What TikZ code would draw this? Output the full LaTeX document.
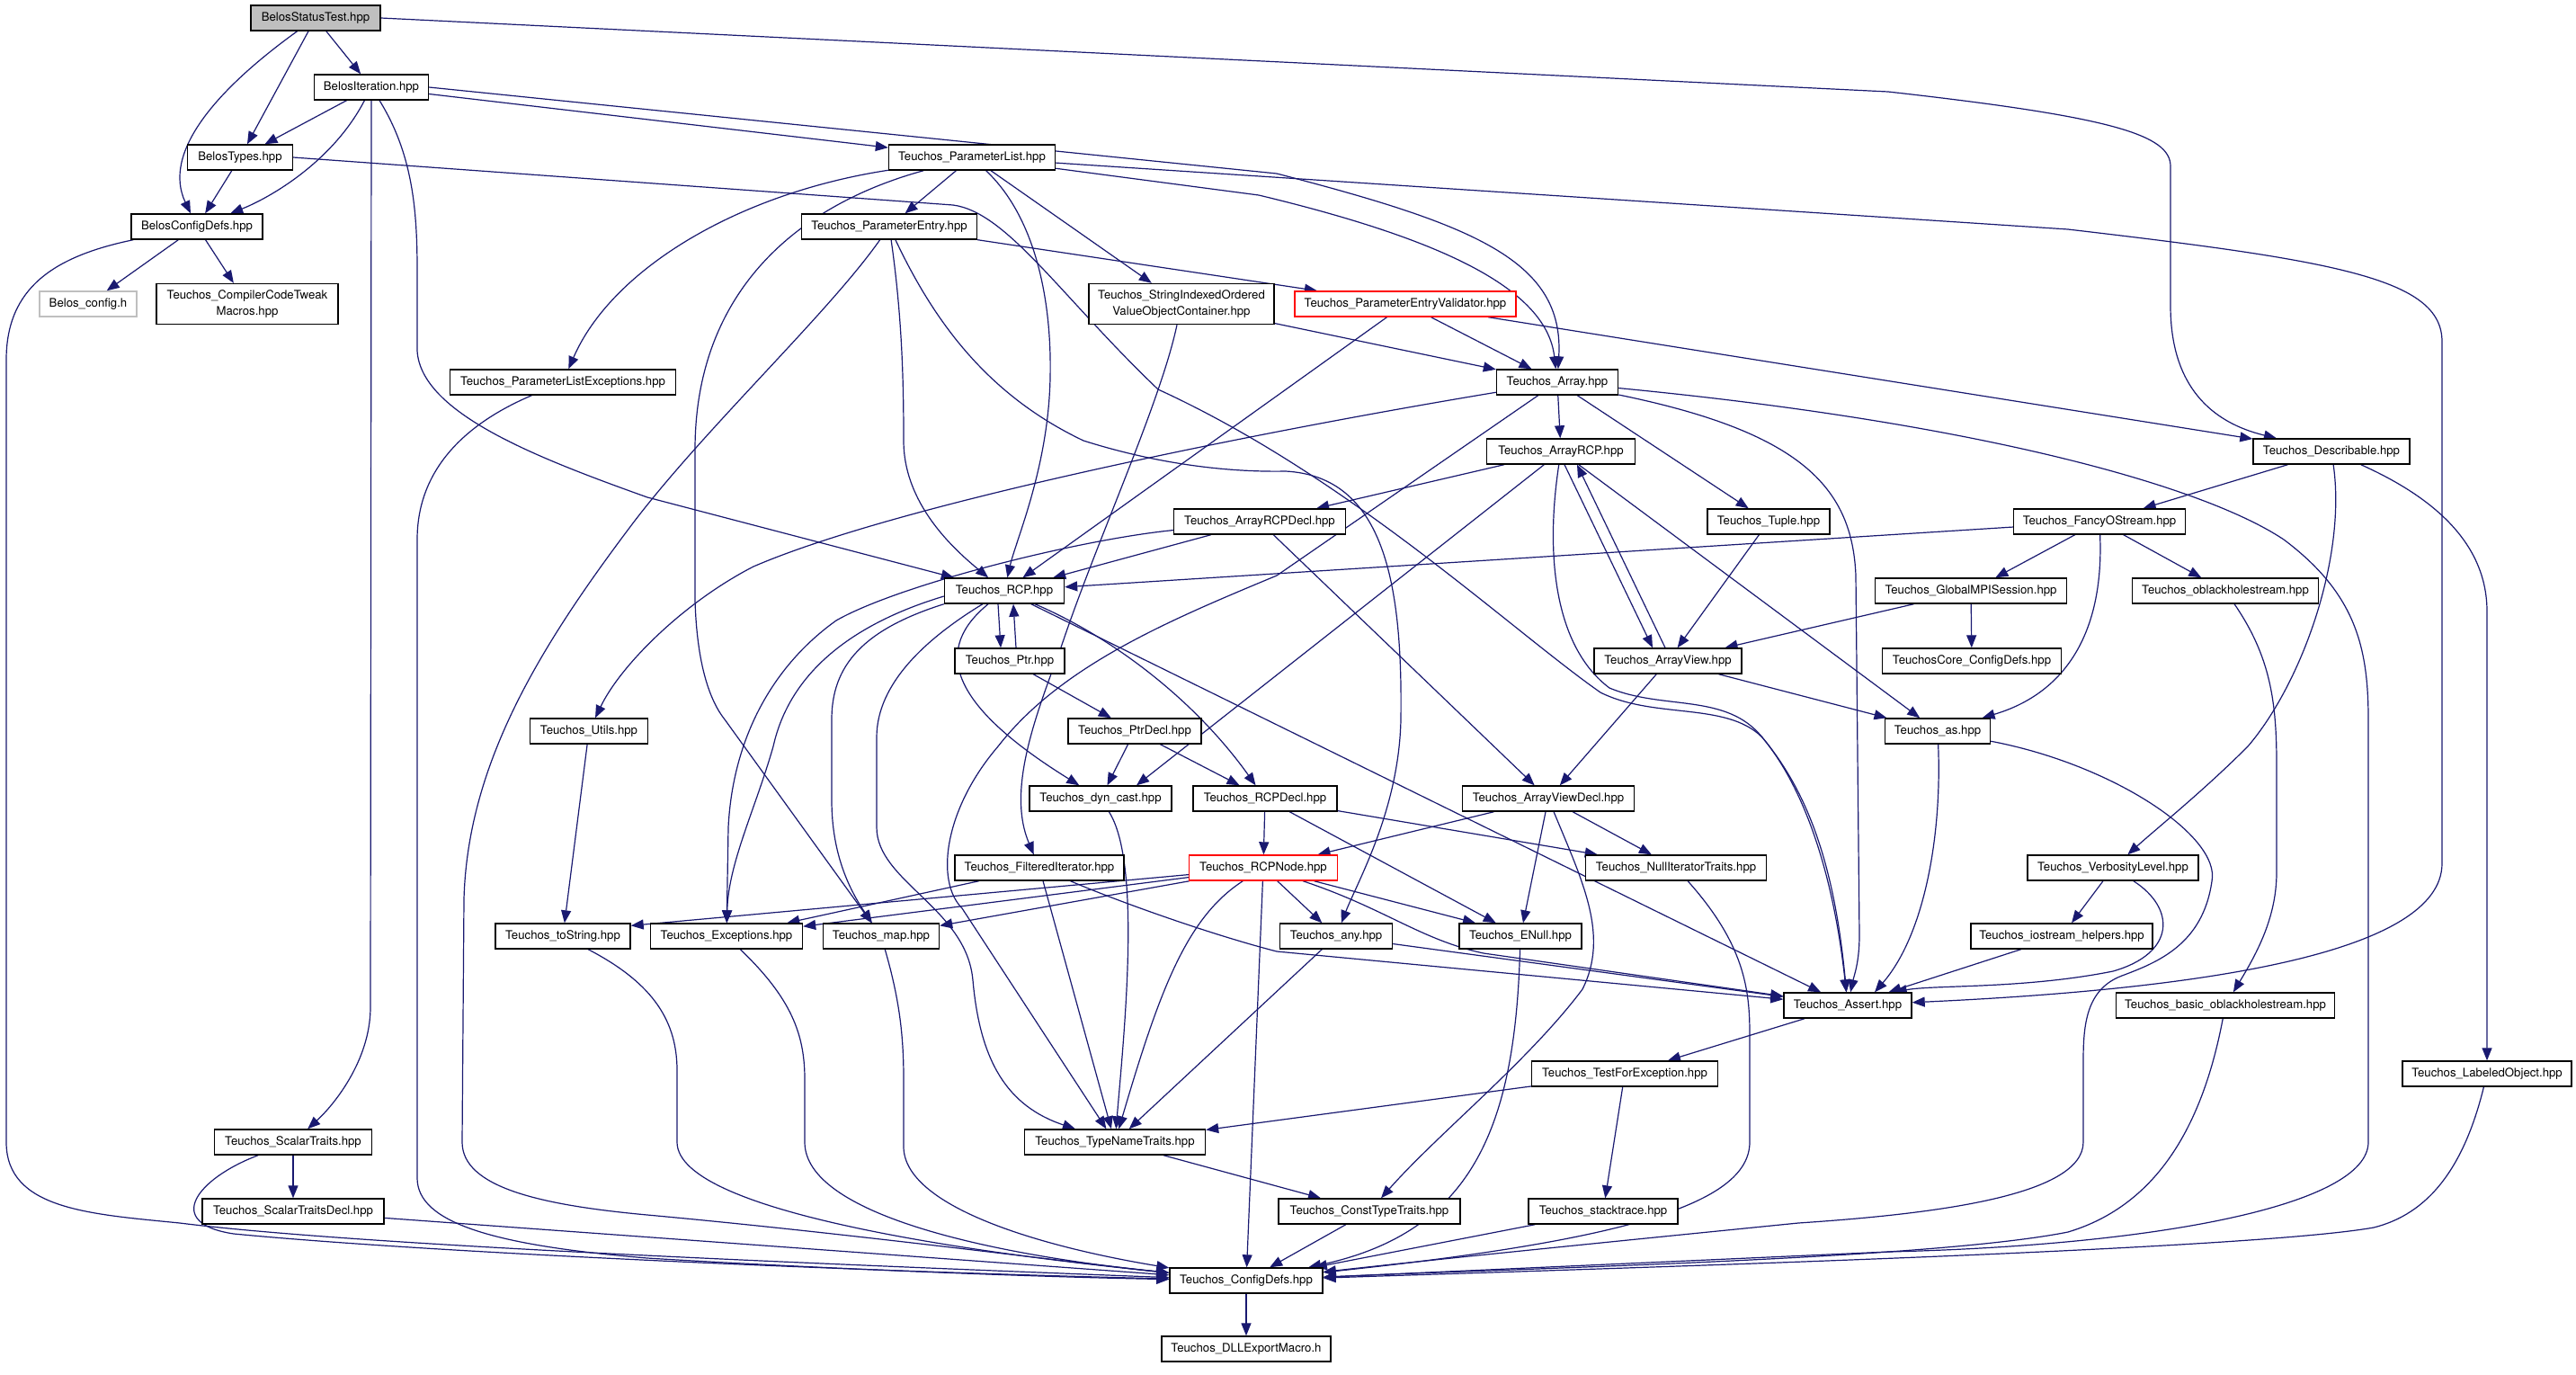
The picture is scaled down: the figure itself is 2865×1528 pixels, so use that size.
\documentclass[tikz,border=0pt]{standalone}
\usepackage{fontspec}
\setmainfont{TeX Gyre Heros}
\usetikzlibrary{arrows.meta,calc}
\definecolor{edgec}{HTML}{191970}
\definecolor{grayfill}{HTML}{BFBFBF}
\definecolor{graybd}{HTML}{BFBFBF}
\pgfdeclarelayer{bg}
\pgfsetlayers{bg,main}
\begin{document}
\begin{tikzpicture}[x=0.5pt,y=-0.5pt,
  nb/.style={draw=black, fill=white, line width=0.7pt, minimum width=#1*0.5pt, minimum height=14pt, inner sep=1pt, font=\fontsize{6.6}{9}\selectfont, text=black},
  two/.style={align=center, minimum height=22.5pt},
  e/.style={draw=edgec, line width=0.6pt, -{Triangle[length=7pt,width=5.5pt]}}]
\useasboundingbox (0,0) rectangle (2865,1528);
% nodes
\node[nb=144, fill=grayfill] (bst) at (351,20) {BelosStatusTest.hpp};
\node[nb=127] (bit) at (413,97) {BelosIteration.hpp};
\node[nb=117] (bty) at (267,175) {BelosTypes.hpp};
\node[nb=146] (bcd) at (219,252) {BelosConfigDefs.hpp};
\node[nb=108, draw=graybd] (bch) at (98,338) {Belos\_config.h};
\node[nb=202, two] (cct) at (275,338) {Teuchos\_CompilerCodeTweak\\Macros.hpp};
\node[nb=185] (pl) at (1081,175) {Teuchos\_ParameterList.hpp};
\node[nb=195] (pe) at (989,252) {Teuchos\_ParameterEntry.hpp};
\node[nb=206, two] (sio) at (1314,338) {Teuchos\_StringIndexedOrdered\\ValueObjectContainer.hpp};
\node[nb=246, draw=red] (pev) at (1563,338) {Teuchos\_ParameterEntryValidator.hpp};
\node[nb=251] (ple) at (626,425) {Teuchos\_ParameterListExceptions.hpp};
\node[nb=135] (arr) at (1732,425) {Teuchos\_Array.hpp};
\node[nb=165] (arcp) at (1736,502) {Teuchos\_ArrayRCP.hpp};
\node[nb=174] (desc) at (2593,502) {Teuchos\_Describable.hpp};
\node[nb=191] (arcpd) at (1401,580) {Teuchos\_ArrayRCPDecl.hpp};
\node[nb=136] (tup) at (1967,580) {Teuchos\_Tuple.hpp};
\node[nb=191] (fos) at (2335,580) {Teuchos\_FancyOStream.hpp};
\node[nb=133] (rcp) at (1117,657) {Teuchos\_RCP.hpp};
\node[nb=213] (gmpi) at (2192,657) {Teuchos\_GlobalMPISession.hpp};
\node[nb=207] (obh) at (2475,657) {Teuchos\_oblackholestream.hpp};
\node[nb=122] (ptr) at (1123,735) {Teuchos\_Ptr.hpp};
\node[nb=164] (av) at (1855,735) {Teuchos\_ArrayView.hpp};
\node[nb=199] (tcc) at (2193,735) {TeuchosCore\_ConfigDefs.hpp};
\node[nb=131] (util) at (655,813) {Teuchos\_Utils.hpp};
\node[nb=148] (ptrd) at (1262,813) {Teuchos\_PtrDecl.hpp};
\node[nb=117] (as) at (2155,813) {Teuchos\_as.hpp};
\node[nb=158] (dyn) at (1224,888) {Teuchos\_dyn\_cast.hpp};
\node[nb=160] (rcpd) at (1407,888) {Teuchos\_RCPDecl.hpp};
\node[nb=191] (avd) at (1722,888) {Teuchos\_ArrayViewDecl.hpp};
\node[nb=188] (fit) at (1156,965) {Teuchos\_FilteredIterator.hpp};
\node[nb=165, draw=red] (rcpn) at (1405,965) {Teuchos\_RCPNode.hpp};
\node[nb=201] (nit) at (1864,965) {Teuchos\_NullIteratorTraits.hpp};
\node[nb=190] (vl) at (2350,965) {Teuchos\_VerbosityLevel.hpp};
\node[nb=150] (tos) at (626,1041) {Teuchos\_toString.hpp};
\node[nb=169] (exc) at (808,1041) {Teuchos\_Exceptions.hpp};
\node[nb=129] (map) at (980,1041) {Teuchos\_map.hpp};
\node[nb=125] (any) at (1486,1041) {Teuchos\_any.hpp};
\node[nb=136] (enull) at (1691,1041) {Teuchos\_ENull.hpp};
\node[nb=202] (ioh) at (2293,1041) {Teuchos\_iostream\_helpers.hpp};
\node[nb=142] (assert) at (2055,1118) {Teuchos\_Assert.hpp};
\node[nb=243] (bobh) at (2475,1118) {Teuchos\_basic\_oblackholestream.hpp};
\node[nb=207] (tfe) at (1807,1194) {Teuchos\_TestForException.hpp};
\node[nb=188] (lo) at (2766,1194) {Teuchos\_LabeledObject.hpp};
\node[nb=175] (st) at (326,1270) {Teuchos\_ScalarTraits.hpp};
\node[nb=201] (tnt) at (1240,1270) {Teuchos\_TypeNameTraits.hpp};
\node[nb=202] (std) at (326,1347) {Teuchos\_ScalarTraitsDecl.hpp};
\node[nb=202] (ctt) at (1523,1347) {Teuchos\_ConstTypeTraits.hpp};
\node[nb=166] (stk) at (1783,1347) {Teuchos\_stacktrace.hpp};
\node[nb=170] (cd) at (1386,1424) {Teuchos\_ConfigDefs.hpp};
\node[nb=188] (dll) at (1386,1500) {Teuchos\_DLLExportMacro.h};
\begin{pgfonlayer}{bg}
\fill[white] (0,0) rectangle (2865,1528);
% BelosStatusTest
\draw[e] (bst) .. controls (240,100) and (180,170) .. (bcd);
\draw[e] (bst) -- (bty);
\draw[e] (bst) -- (bit);
\draw[e] (bst.east) -- (2100,102) .. controls (2350,130) and (2414,150) .. (2414,185) -- (2414,340) .. controls (2414,430) and (2460,470) .. (desc);
% BelosIteration
\draw[e] (bit) -- (bty);
\draw[e] (bit) .. controls (370,180) and (300,220) .. (bcd);
\draw[e] (bit.south) -- (412,1120) .. controls (412,1180) and (370,1230) .. (st);
\draw[e] (bit) .. controls (458,170) and (464,230) .. (464,300) -- (464,390) .. controls (468,460) and (600,510) .. (720,553) -- (rcp);
\draw[e] (bit) -- (pl);
\draw[e] (bit.east) -- (1420,193) .. controls (1640,250) and (1740,290) .. (arr);
% BelosTypes
\draw[e] (bty) -- (bcd);
\draw[e] (bty.east) -- (1060,228) .. controls (1120,236) and (1180,330) .. (1288,433) .. controls (1500,530) and (1680,700) .. (1780,770) .. controls (1840,800) and (1920,780) .. (1960,820) .. controls (2010,880) and (2040,960) .. (assert);
% BelosConfigDefs
\draw[e] (bcd) -- (bch);
\draw[e] (bcd) -- (cct);
\draw[e] (bcd) .. controls (60,285) and (7,320) .. (7,400) -- (7,1270) .. controls (7,1345) and (100,1350) .. (200,1360) .. controls (400,1385) and (900,1405) .. (cd);
% ParameterList
\draw[e] (pl) .. controls (820,215) and (680,300) .. (ple);
\draw[e] (pl) -- (pe);
\draw[e] (pl) .. controls (880,230) and (773,330) .. (773,500) -- (773,667) .. controls (775,740) and (790,780) .. (806,800) -- (map);
\draw[e] (pl) -- (sio);
\draw[e] (pl) .. controls (1150,240) and (1170,330) .. (1168,420) .. controls (1166,520) and (1130,600) .. (rcp);
\draw[e] (pl) -- (1400,217) .. controls (1600,265) and (1720,320) .. (arr);
\draw[e] (pl) -- (2300,255) .. controls (2600,290) and (2716,310) .. (2716,380) -- (2716,960) .. controls (2716,1060) and (2450,1100) .. (assert);
% ParameterEntry
\draw[e] (pe) -- (pev);
\draw[e] (pe) .. controls (1003,350) and (1005,420) .. (1005,490) .. controls (1005,560) and (1060,610) .. (rcp);
\draw[e] (pe) .. controls (1040,360) and (1100,440) .. (1205,490) .. controls (1300,520) and (1380,525) .. (1430,524) .. controls (1540,530) and (1560,650) .. (1558,800) .. controls (1556,900) and (1510,980) .. (any);
\draw[e] (pe) .. controls (920,350) and (780,480) .. (700,587) .. controls (600,720) and (520,850) .. (516,1000) -- (514,1270) .. controls (514,1320) and (600,1340) .. (720,1351) .. controls (950,1372) and (1200,1405) .. (cd);
% ParameterEntryValidator
\draw[e] (pev) -- (rcp);
\draw[e] (pev) -- (arr);
\draw[e] (pev) -- (desc);
% SIOVOC
\draw[e] (sio) -- (arr);
\draw[e] (sio) .. controls (1290,450) and (1220,600) .. (1180,720) .. controls (1150,800) and (1120,880) .. (fit);
% ParameterListExceptions
\draw[e] (ple) .. controls (520,470) and (464,520) .. (464,600) -- (464,1310) .. controls (464,1360) and (550,1385) .. (720,1399) .. controls (900,1410) and (1150,1420) .. (cd);
% Array
\draw[e] (arr) -- (arcp);
\draw[e] (arr) .. controls (1400,480) and (1000,560) .. (838,630) .. controls (760,670) and (690,740) .. (util);
\draw[e] (arr) -- (1420,640) .. controls (1300,690) and (1180,740) .. (1110,830) .. controls (1050,900) and (1040,980) .. (1070,1010) -- (tnt);
\draw[e] (arr) -- (tup);
\draw[e] (arr) .. controls (2200,470) and (2450,540) .. (2540,600) .. controls (2620,660) and (2634,720) .. (2634,800) -- (2634,1270) .. controls (2634,1340) and (2400,1385) .. (2100,1392) -- (cd);
\draw[e] (arr) .. controls (2000,480) and (2060,540) .. (2064,640) -- (2068,1040) .. controls (2068,1070) and (2062,1085) .. (assert);
% ArrayRCP
\draw[e] (arcp) -- (arcpd);
\draw[e] ($(arcp.south)+(4,0)$) -- ($(av.north)+(-17,0)$);
\draw[e] ($(av.north)+(-3,0)$) -- ($(arcp.south)+(18,0)$);
\draw[e] (arcp) -- ($(dyn.north)+(40,0)$);
\draw[e] (arcp) -- (as);
\draw[e] (arcp) .. controls (1718,620) and (1730,720) .. (1790,765) .. controls (1850,790) and (1920,770) .. (1960,820) .. controls (2010,880) and (2040,980) .. (assert);
% ArrayRCPDecl
\draw[e] (arcpd) -- (rcp);
\draw[e] (arcpd) .. controls (1200,600) and (1000,650) .. (930,690) .. controls (860,740) and (815,820) .. (810,920) -- (exc);
\draw[e] (arcpd) -- (avd);
% Tuple
\draw[e] (tup) -- (av);
% Describable
\draw[e] (desc) -- (fos);
\draw[e] (desc) .. controls (2610,620) and (2560,760) .. (2500,830) .. controls (2450,880) and (2400,920) .. (vl);
\draw[e] (desc) .. controls (2700,550) and (2766,600) .. (2766,680) -- (lo);
% FancyOStream
\draw[e] (fos) -- (rcp);
\draw[e] (fos) -- (gmpi);
\draw[e] (fos) -- (obh);
\draw[e] (fos) .. controls (2340,700) and (2300,770) .. (as);
% GlobalMPISession
\draw[e] (gmpi) -- (av);
\draw[e] (gmpi) -- (tcc);
% oblackholestream
\draw[e] (obh) .. controls (2525,730) and (2532,780) .. (2532,850) -- (2532,970) .. controls (2532,1020) and (2510,1060) .. (bobh);
% RCP
\draw[e] ($(rcp.south)+(-7,0)$) -- ($(ptr.north)+(-10,0)$);
\draw[e] ($(ptr.north)+(7,0)$) -- ($(rcp.south)+(10,0)$);
\draw[e] ($(rcp.west)+(0,6)$) .. controls (960,690) and (880,740) .. (860,830) .. controls (840,900) and (810,960) .. (exc);
\draw[e] (rcp.south west) .. controls (960,700) and (925,740) .. (925,800) -- (925,890) .. controls (925,950) and (945,990) .. (map);
\draw[e] (rcp) .. controls (1030,710) and (975,760) .. (975,820) -- (975,920) .. controls (975,980) and (1075,1010) .. (1082,1090) .. controls (1090,1180) and (1120,1230) .. (tnt);
\draw[e] (rcp) .. controls (1040,720) and (1050,780) .. (dyn);
\draw[e] (rcp) .. controls (1240,710) and (1330,780) .. (rcpd);
\draw[e] (rcp) -- (assert);
% Ptr
\draw[e] (ptr) -- (ptrd);
% ArrayView
\draw[e] (av) -- (as);
\draw[e] (av) -- (avd);
% PtrDecl
\draw[e] (ptrd) -- (dyn);
\draw[e] (ptrd) -- (rcpd);
% Utils
\draw[e] (util) -- (tos);
% as
\draw[e] (as) .. controls (2160,930) and (2140,1040) .. ($(assert.north)+(30,0)$);
\draw[e] (as) .. controls (2350,850) and (2470,930) .. (2460,980) .. controls (2450,1050) and (2400,1070) .. (2360,1085) .. controls (2320,1100) and (2317,1140) .. (2317,1180) -- (2317,1270) .. controls (2317,1330) and (2150,1350) .. (2000,1360) .. controls (1800,1380) and (1600,1400) .. (cd);
% dyn_cast
\draw[e] (dyn) .. controls (1270,960) and (1250,1150) .. (tnt);
% RCPDecl
\draw[e] (rcpd) -- (rcpn);
\draw[e] (rcpd) -- (enull);
\draw[e] (rcpd) -- (nit);
% ArrayViewDecl
\draw[e] (avd) -- (rcpn);
\draw[e] (avd) -- (enull);
\draw[e] (avd) -- (nit);
\draw[e] (avd) .. controls (1760,980) and (1790,1040) .. (1760,1100) .. controls (1700,1180) and (1600,1260) .. (ctt);
% FilteredIterator
\draw[e] (fit) -- (exc);
\draw[e] (fit) -- (tnt);
\draw[e] (fit) .. controls (1250,1005) and (1350,1040) .. (1420,1058) -- (assert);
% RCPNode
\draw[e] (rcpn) -- ($(tos.north east)+(0,3)$);
\draw[e] (rcpn) -- (exc);
\draw[e] (rcpn) -- (map);
\draw[e] (rcpn) .. controls (1320,1020) and (1290,1100) .. (tnt);
\draw[e] (rcpn) -- (cd);
\draw[e] (rcpn) -- (any);
\draw[e] (rcpn) -- ($(enull.north)+(-50,0)$);
\draw[e] (rcpn) .. controls (1540,1010) and (1580,1045) .. (1650,1060) -- (assert);
% any
\draw[e] (any) -- (assert);
\draw[e] (any) -- (tnt);
% ENull
\draw[e] (enull) .. controls (1685,1250) and (1640,1370) .. (cd);
% NullIteratorTraits
\draw[e] (nit) .. controls (1940,1050) and (1946,1100) .. (1946,1150) -- (1946,1270) .. controls (1946,1340) and (1800,1380) .. (cd);
% VerbosityLevel
\draw[e] (vl) -- (ioh);
\draw[e] (vl) .. controls (2420,1010) and (2420,1060) .. (2350,1080) .. controls (2250,1100) and (2150,1095) .. ($(assert.north east)+(-20,0)$);
% iostream_helpers
\draw[e] (ioh) -- (assert);
% basic_oblackholestream
\draw[e] (bobh) .. controls (2450,1250) and (2400,1340) .. (2300,1370) .. controls (2150,1400) and (1700,1410) .. (cd);
% LabeledObject
\draw[e] (lo) .. controls (2740,1300) and (2700,1350) .. (2640,1365) .. controls (2500,1390) and (1800,1410) .. (cd);
% Assert
\draw[e] (assert) -- (tfe);
% TestForException
\draw[e] (tfe) -- (tnt);
\draw[e] (tfe) -- (stk);
% TypeNameTraits
\draw[e] (tnt) -- (ctt);
\draw[e] (ctt) -- (cd);
\draw[e] (stk) -- (cd);
% ScalarTraits
\draw[e] (st) -- (std);
\draw[e] (st) .. controls (220,1310) and (180,1360) .. (260,1372) .. controls (500,1395) and (1000,1415) .. (cd);
\draw[e] (std) -- (cd);
% toString, Exceptions, map
\draw[e] (tos) .. controls (720,1090) and (753,1130) .. (753,1190) -- (753,1270) .. controls (753,1350) and (1100,1395) .. (cd);
\draw[e] (exc) .. controls (880,1110) and (895,1150) .. (895,1200) -- (895,1270) .. controls (895,1350) and (1100,1395) .. (cd);
\draw[e] (map) .. controls (1000,1110) and (1005,1150) .. (1005,1200) -- (1005,1275) .. controls (1005,1340) and (1150,1385) .. (cd);
% ConfigDefs
\draw[e] (cd) -- (dll);
\end{pgfonlayer}
\end{tikzpicture}
\end{document}
